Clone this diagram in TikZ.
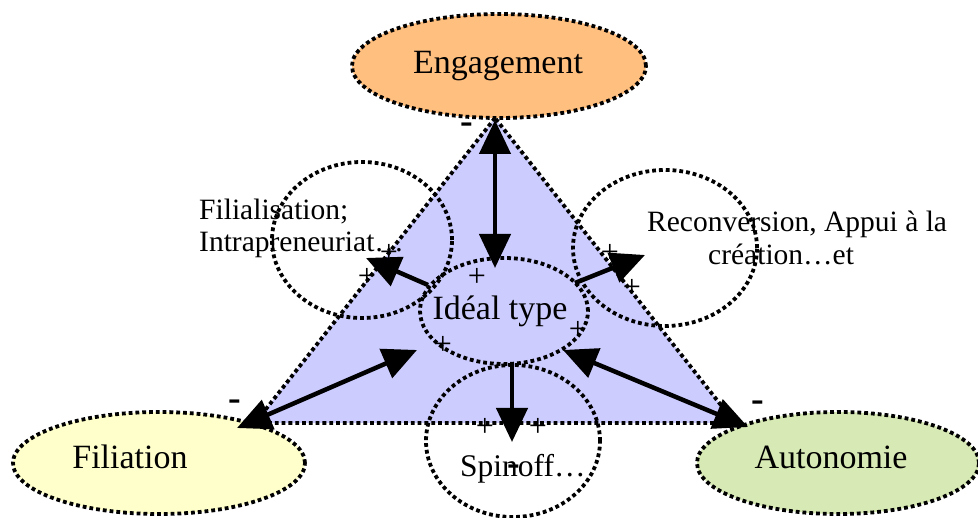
\documentclass[tikz,border=0pt]{standalone}
\usepackage{fontspec}
\setmainfont{Liberation Serif}
\usetikzlibrary{shapes.geometric,arrows.meta}

\definecolor{trifill}{RGB}{204,204,255}
\definecolor{engfill}{RGB}{255,191,127}
\definecolor{filfill}{RGB}{255,255,204}
\definecolor{autfill}{RGB}{215,233,180}

\begin{document}
\begin{tikzpicture}[x=1pt,y=-1pt,
  dots/.style={line width=3.8pt, dash pattern=on 3.8pt off 3pt},
  blob/.style={ellipse, draw, dots, inner sep=0pt, outer sep=0pt},
  head/.tip={Triangle[length=34pt,width=31pt]},
  onearrow/.style={line width=4.5pt, -head},
  twoarrow/.style={line width=4.5pt, head-head},
  bigtext/.style={font=\fontsize{34}{40}\selectfont, inner sep=0pt, anchor=base},
  smalltext/.style={font=\fontsize{29.5}{34}\selectfont, inner sep=0pt, anchor=base west},
  plus/.style={font=\fontsize{32}{36}\selectfont, inner sep=0pt},
  minus/.style={font=\fontsize{38}{42}\selectfont\bfseries, inner sep=0pt},
]
\useasboundingbox (0,0) rectangle (978,518);

% the triangle of the three poles
\coordinate (apex) at (495,118);
\coordinate (left) at (255,423);
\coordinate (right) at (735,423);
\fill[trifill] (apex) -- (left) -- (right) -- cycle;
\draw[dots] (apex) -- (left) -- (right) -- cycle;

% poles
\node[blob, fill=engfill, minimum width=294pt, minimum height=104pt] (eng) at (499,66) {};
\node[blob, fill=filfill, minimum width=292pt, minimum height=102pt] (fil) at (159,463) {};
\node[blob, fill=autfill, minimum width=282pt, minimum height=102pt] (aut) at (838,463) {};

% intermediate forms
\node[blob, minimum width=180pt, minimum height=156pt] (filial) at (362,240) {};
\node[blob, minimum width=184pt, minimum height=156pt] (recon) at (665,248) {};
\node[blob, minimum width=174pt, minimum height=152pt] (spin) at (513,441) {};
\node[blob, minimum width=168pt, minimum height=106pt] (ideal) at (504,311) {};

% arrow ends
\coordinate (engtip) at (495,120);
\coordinate (idealtop) at (495,268);
\coordinate (idealleft) at (428,285);
\coordinate (filialtip) at (366,258);
\coordinate (idealright) at (575,283);
\coordinate (recontip) at (645,255);
\coordinate (idealsw) at (417,350);
\coordinate (filtip) at (237,428);
\coordinate (idealse) at (563,350);
\coordinate (auttip) at (748,427);
\coordinate (idealbot) at (512,364);
\coordinate (spintip) at (512,442);

\draw[twoarrow] (engtip) -- (idealtop);
\draw[onearrow] (idealleft) -- (filialtip);
\draw[onearrow] (idealright) -- (recontip);
\draw[twoarrow] (idealsw) -- (filtip);
\draw[twoarrow] (idealse) -- (auttip);
\draw[onearrow] (idealbot) -- (spintip);

% labels
\node[bigtext] (engtext) at (498,74) {Engagement};
\node[bigtext] (filtext) at (130,469) {Filiation};
\node[bigtext] (auttext) at (831,469) {Autonomie};
\node[bigtext] (idealtext) at (500,320) {Idéal type};
\node[smalltext] (filialtext1) at (199,220) {Filialisation;};
\node[smalltext] (filialtext2) at (199,252) {Intrapreneuriat…};
\node[smalltext] (recontext1) at (647,232) {Reconversion, Appui à la};
\node[smalltext] (recontext2) at (708,265) {création…et};
\node[smalltext, font=\fontsize{31.5}{36}\selectfont] (spintext) at (460,477) {Spinoff…};

% signs
\node[plus] (p1) at (477,277) {+};
\node[plus] (p2) at (367,277) {+};
\node[plus] (p3) at (389,253) {+};
\node[plus] (p4) at (610,253) {+};
\node[plus] (p5) at (632,288) {+};
\node[plus] (p6) at (578,330) {+};
\node[plus] (p7) at (443,345) {+};
\node[plus] (p8) at (485,427) {+};
\node[plus] (p9) at (538,427) {+};
\node[minus] (m1) at (467,128) {-};
\node[minus] (m2) at (235,405) {-};
\node[minus] (m3) at (758,406) {-};
\node[minus] (m4) at (514,470) {-};
\end{tikzpicture}
\end{document}
